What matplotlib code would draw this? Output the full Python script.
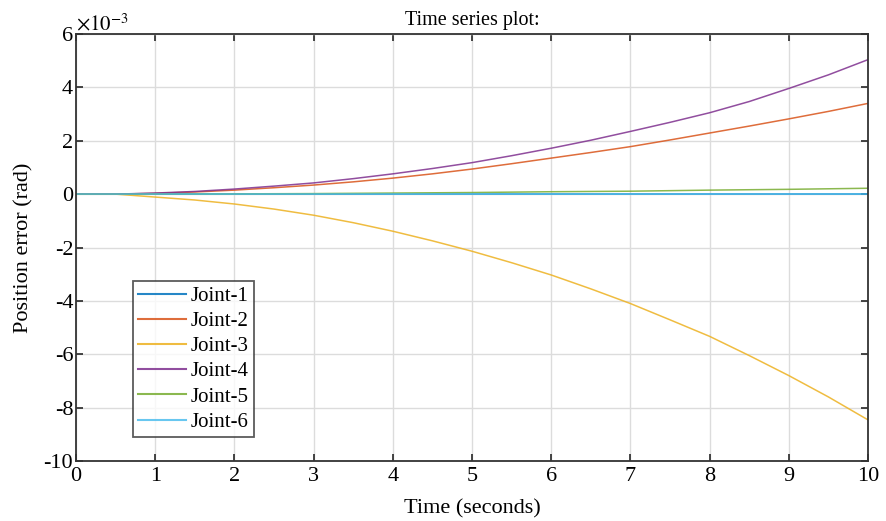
import matplotlib
matplotlib.use("Agg")
import matplotlib.pyplot as plt
from matplotlib.ticker import FuncFormatter

plt.rcParams['font.family'] = ['Liberation Serif', 'DejaVu Serif']
plt.rcParams['mathtext.fontset'] = 'stix'
plt.rcParams['axes.unicode_minus'] = False

t = [0, 0.5, 1, 1.5, 2, 2.5, 3, 3.5, 4, 4.5, 5, 5.5, 6, 6.5, 7, 7.5, 8, 8.5, 9, 9.5, 10]
joint1 = [0.0] * 21
joint2 = [0, 0, 0.03, 0.08, 0.15, 0.24, 0.34, 0.46, 0.60, 0.76, 0.94, 1.14, 1.35, 1.56, 1.78, 2.03, 2.29, 2.55, 2.82, 3.10, 3.40]
joint3 = [0, 0, -0.11, -0.22, -0.37, -0.56, -0.79, -1.07, -1.39, -1.75, -2.14, -2.57, -3.03, -3.55, -4.10, -4.71, -5.33, -6.05, -6.80, -7.60, -8.46]
joint4 = [0, 0, 0.04, 0.10, 0.19, 0.30, 0.42, 0.58, 0.76, 0.96, 1.18, 1.44, 1.72, 2.02, 2.35, 2.69, 3.05, 3.47, 3.96, 4.47, 5.04]
joint5 = [0, 0, 0.003, 0.006, 0.01, 0.015, 0.02, 0.03, 0.04, 0.05, 0.06, 0.075, 0.09, 0.10, 0.11, 0.13, 0.15, 0.165, 0.18, 0.20, 0.22]
joint6 = [0.0] * 21
labels = ['Joint-1', 'Joint-2', 'Joint-3', 'Joint-4', 'Joint-5', 'Joint-6']
colors = ['#0072BD', '#D95319', '#EDB120', '#7E2F8E', '#77AC30', '#4DBEEE']
series = [joint1, joint2, joint3, joint4, joint5, joint6]
scale = 1e-3

fig = plt.figure(figsize=(8.87, 5.21), dpi=100)
ax = fig.add_axes([0.0857, 0.1152, 0.9786 - 0.0857, 0.9347 - 0.1152])

for s, lab, c in zip(series, labels, colors):
    ax.plot(t, [v * scale for v in s], color=c, lw=1.1, label=lab, alpha=0.85)

ax.set_xlim(0, 10)
ax.set_ylim(-0.010, 0.006)
ax.set_xticks(range(0, 11))
ax.set_yticks([v * scale for v in range(-10, 7, 2)])
ax.yaxis.set_major_formatter(FuncFormatter(lambda v, p: '%d' % round(v / scale)))
ax.grid(True, color='#dcdcdc', lw=1)
ax.set_axisbelow(True)
ax.tick_params(direction='in', top=True, right=True, length=5, width=1.2,
               labelsize=16, colors='#262626', pad=2)
ax.tick_params(axis='x', pad=4)
ax.tick_params(labelcolor='black')
for sp in ax.spines.values():
    sp.set_color('#333333')
    sp.set_linewidth(1.3)

ax.text(0.0, 0.008, r'$\times10^{-3}$', transform=ax.transAxes, fontsize=15,
        ha='left', va='baseline')
ax.texts[-1].set_y(1.008)
ax.text(0.5, 1.021, 'Time series plot:', transform=ax.transAxes, fontsize=14.5,
        ha='center', va='baseline')
ax.set_xlabel('Time (seconds)', fontsize=16, labelpad=10)
ax.set_ylabel('Position error (rad)', fontsize=16, labelpad=7)

leg = ax.legend(loc='lower left', bbox_to_anchor=(0.072, 0.056), fontsize=15,
                frameon=True, fancybox=False, edgecolor='#333333',
                handlelength=2.3, handletextpad=0.2, borderpad=0.25,
                labelspacing=0.27, borderaxespad=0)
leg.get_frame().set_linewidth(1.3)
for line in leg.get_lines():
    line.set_linewidth(1.5)

fig.savefig('out.png', dpi=100)
